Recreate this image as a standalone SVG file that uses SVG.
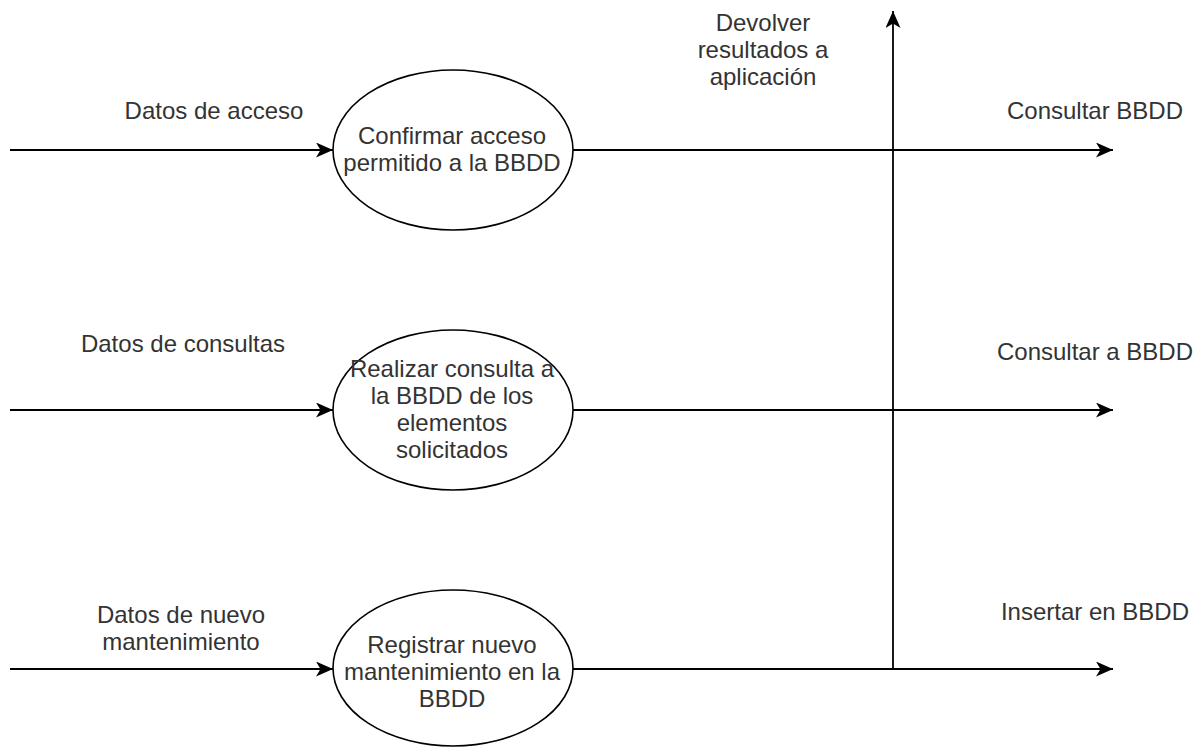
<svg xmlns="http://www.w3.org/2000/svg" width="1202" height="749" viewBox="0 0 1202 749">
  <style>
    .node ellipse { fill: #ffffff; stroke: #000000; stroke-width: 1.6; }
    .conn { fill: none; stroke: #000000; stroke-width: 1.8; }
    text { font-family: "Liberation Sans", Arial, sans-serif; font-size: 24px; fill: #333333; text-anchor: middle; }
  </style>
  <defs>
    <marker id="arrow" markerUnits="userSpaceOnUse" viewBox="0 0 17 15" markerWidth="17" markerHeight="15" refX="17" refY="7.5" orient="auto">
      <path d="M0,0 L17,7.5 L0,15 L4.5,7.5 Z" fill="#000000"/>
    </marker>
  </defs>
  <rect width="1202" height="749" fill="#ffffff"/>
  <g id="connectors">
    <line class="conn" x1="10" y1="150" x2="333" y2="150" marker-end="url(#arrow)"/>
    <line class="conn" x1="10" y1="410" x2="333" y2="410" marker-end="url(#arrow)"/>
    <line class="conn" x1="10" y1="669" x2="333" y2="669" marker-end="url(#arrow)"/>
    <line class="conn" x1="573" y1="150" x2="1113" y2="150" marker-end="url(#arrow)"/>
    <line class="conn" x1="573" y1="410" x2="1113" y2="410" marker-end="url(#arrow)"/>
    <line class="conn" x1="573" y1="669" x2="1113" y2="669" marker-end="url(#arrow)"/>
    <line class="conn" x1="893" y1="669" x2="893" y2="11" marker-end="url(#arrow)"/>
  </g>
  <g id="labels">
    <text x="214" y="119">Datos de acceso</text>
    <text x="183" y="352">Datos de consultas</text>
    <text x="181" y="623">Datos de nuevo</text>
    <text x="181" y="650">mantenimiento</text>
    <text x="1095" y="119">Consultar BBDD</text>
    <text x="1095" y="360">Consultar a BBDD</text>
    <text x="1095" y="620">Insertar en BBDD</text>
    <text x="763" y="31">Devolver</text>
    <text x="763" y="58">resultados a</text>
    <text x="763" y="85">aplicación</text>
  </g>
  <g id="node1" class="node">
    <ellipse cx="453" cy="150" rx="120" ry="80"/>
    <text x="452" y="144">Confirmar acceso</text>
    <text x="452" y="171">permitido a la BBDD</text>
  </g>
  <g id="node2" class="node">
    <ellipse cx="453" cy="410" rx="120" ry="80"/>
    <text x="452" y="377">Realizar consulta a</text>
    <text x="452" y="404">la BBDD de los</text>
    <text x="452" y="431">elementos</text>
    <text x="452" y="458">solicitados</text>
  </g>
  <g id="node3" class="node">
    <ellipse cx="453" cy="668" rx="120" ry="78"/>
    <text x="452" y="653">Registrar nuevo</text>
    <text x="452" y="680">mantenimiento en la</text>
    <text x="452" y="707">BBDD</text>
  </g>
</svg>
